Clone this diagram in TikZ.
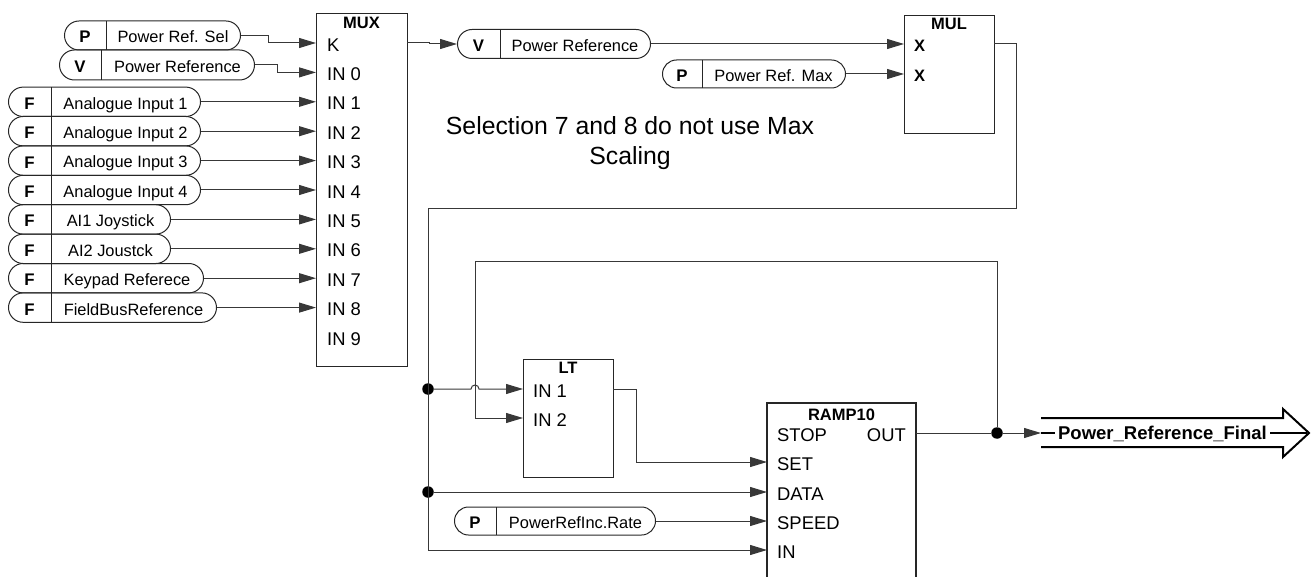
\documentclass[tikz,border=0pt]{standalone}
\usepackage{fontspec}
\setmainfont{Liberation Sans}
\usetikzlibrary{arrows.meta,shapes.misc}
\newcommand\pill[8]{% name, left, right, cy, sep, letter, text, height
  \node[pillbody,minimum width={(#3-#2)*1pt},minimum height=#8pt,anchor=west] (#1) at (#2,#4) {};
  \draw[pillline] (#5,{#4-#8/2}) -- (#5,{#4+#8/2});
  \node[pletter] (#1-l) at ({(#2+#5)/2},#4) {#6};
  \node[ptxt] (#1-t) at ({(#5+#3)/2},#4) {#7};
}
\begin{document}
\begin{tikzpicture}[x=1pt,y=-1pt,
  line/.style={draw=black!78,line width=1pt},
  conn/.style={line,-{Triangle[length=17pt,width=10pt]}},
  pillbody/.style={rounded rectangle,draw=black!85,line width=1pt,inner sep=0pt},
  pillline/.style={draw=black!85,line width=1pt},
  blk/.style={draw=black!85,line width=1.3pt,inner sep=0pt},
  ptxt/.style={font=\fontsize{16.4}{18}\selectfont,inner sep=0pt,text height=11.8pt,text depth=0pt,yshift=-1.5pt},
  pletter/.style={font=\fontsize{16.8}{18}\selectfont\bfseries,inner sep=0pt,text height=12pt,text depth=0pt,yshift=-1.5pt},
  port/.style={font=\fontsize{18.4}{20}\selectfont,anchor=west,inner sep=0pt,text height=13.2pt,text depth=0pt,yshift=-1.5pt},
  portr/.style={port,anchor=east},
  bport/.style={font=\fontsize{16.5}{18}\selectfont\bfseries,anchor=west,inner sep=0pt,text height=11.8pt,text depth=0pt,yshift=-1.5pt},
  ttl/.style={font=\fontsize{16.5}{18}\selectfont\bfseries,inner sep=0pt,text height=11.8pt,text depth=0pt},
  dot/.style={circle,fill=black,inner sep=0pt,minimum size=11.5pt},
  note/.style={font=\fontsize{24.8}{30}\selectfont,align=center,inner sep=0pt},
  bigarrow/.style={draw=black,line width=2pt,line join=miter},
  finaltxt/.style={font=\fontsize{18.5}{20}\selectfont\bfseries,fill=white,inner xsep=3pt,inner ysep=1pt,text height=13pt,text depth=0pt},
]
\useasboundingbox (0,0) rectangle (1313,577);

% ---------- MUX ----------
\node[blk,minimum width=91pt,minimum height=353pt,anchor=north west] (mux) at (316,13) {};
\node[ttl] (muxt) at (361.5,23) {MUX};
\foreach \i/\lab in {0/K,1/IN 0,2/IN 1,3/IN 2,4/IN 3,5/IN 4,6/IN 5,7/IN 6,8/IN 7,9/IN 8,10/IN 9}{
  \pgfmathsetmacro\yy{43+29.4*\i}
  \coordinate (mux-\i) at (316,\yy);
  \node[port] (muxl-\i) at (327,\yy) {\lab};
}
\coordinate (mux-out) at (407,43);

% ---------- inputs to MUX ----------
\pill{psel}{64}{240}{35.5}{106}{P}{Power Ref. Sel}{29}
\pill{vref}{59}{254}{65}{101}{V}{Power Reference}{30}
\draw[conn] (psel.east) -- (268,35.5) |- (mux-0);
\draw[conn] (vref.east) -- (277,65) |- (mux-1);
\foreach \i/\r/\t in {2/200/Analogue Input 1,3/200/Analogue Input 2,4/200/Analogue Input 3,5/200/Analogue Input 4,6/170/AI1 Joystick,7/170/AI2 Joustck,8/203/Keypad Referece,9/216/FieldBusReference}{
  \pgfmathsetmacro\yy{43+29.4*\i}
  \pill{f\i}{8}{\r}{\yy}{51}{F}{\t}{29.4}
  \draw[conn] (f\i.east) -- (mux-\i);
}

% ---------- MUL ----------
\node[blk,minimum width=90pt,minimum height=118pt,anchor=north west] (mul) at (904,15) {};
\node[ttl] (mult) at (949,24) {MUL};
\coordinate (mul-x1) at (904,44);
\coordinate (mul-x2) at (904,74);
\coordinate (mul-out) at (994,44);
\node[bport] (mulx1) at (914,44) {X};
\node[bport] (mulx2) at (914,74) {X};

\pill{vref2}{457}{650}{44}{500}{V}{Power Reference}{29}
\pill{pmax}{662}{845}{74}{702}{P}{Power Ref. Max}{28}
\draw[conn] (mux-out) -- (429,43) |- (vref2.west);
\draw[conn] (vref2.east) -- (mul-x1);
\draw[conn] (pmax.east) -- (mul-x2);

\node[note] (note) at (630,143) {Selection 7 and 8 do not use Max\\Scaling};

% ---------- LT ----------
\node[blk,minimum width=90pt,minimum height=118pt,anchor=north west] (lt) at (523,359) {};
\node[ttl] (ltt) at (568,368) {LT};
\coordinate (lt-in1) at (523,389);
\coordinate (lt-in2) at (523,418);
\coordinate (lt-out) at (613,389);
\node[port] (ltl1) at (533,389) {IN 1};
\node[port] (ltl2) at (533,418) {IN 2};

% ---------- RAMP10 ----------
\draw[blk] (767,590) |- (916,403) -- (916,590);
\node[ttl] (rampt) at (841.5,415) {RAMP10};
\coordinate (ramp-set) at (767,462);
\coordinate (ramp-data) at (767,492);
\coordinate (ramp-speed) at (767,521);
\coordinate (ramp-in) at (767,550);
\coordinate (ramp-out) at (916,433);
\node[port] (rl0) at (777,433) {STOP};
\node[portr] (rlo) at (906,433) {OUT};
\node[port] (rl1) at (777,462) {SET};
\node[port] (rl2) at (777,492) {DATA};
\node[port] (rl3) at (777,521) {SPEED};
\node[port] (rl4) at (777,550) {IN};

\pill{prate}{454}{655}{521}{496}{P}{PowerRefInc.Rate}{28}

% ---------- junctions ----------
\node[dot] (dA) at (428,389) {};
\node[dot] (dB) at (428,492) {};
\node[dot] (dC) at (997,433) {};

% ---------- connections ----------
\draw[conn] (mul-out) -- (1016,44) -- (1016,209) -- (428,209) -- (428,550) -- (ramp-in);
\draw[conn] (dA) -- (471,389) arc[start angle=180,end angle=0,radius=4pt] -- (lt-in1);
\draw[conn] (dB) -- (ramp-data);
\draw[conn] (prate.east) -- (ramp-speed);
\draw[conn] (lt-out) -- (636,389) |- (ramp-set);
\draw[line] (ramp-out) -- (dC);
\draw[conn] (dC) |- (475,261) |- (lt-in2);

% ---------- output arrow ----------
\coordinate (fin-in) at (1041,433);
\draw[bigarrow] (1041,418) -- (1283,418) -- (1283,409) -- (1309,433) -- (1283,457) -- (1283,447) -- (1041,447);
\draw[line,line width=1.5pt,draw=black] (fin-in) -- (1307,433);
\node[finaltxt] (final) at (1162.5,433) {Power\_Reference\_Final};
\draw[conn] (dC) -- (fin-in);
\end{tikzpicture}
\end{document}
